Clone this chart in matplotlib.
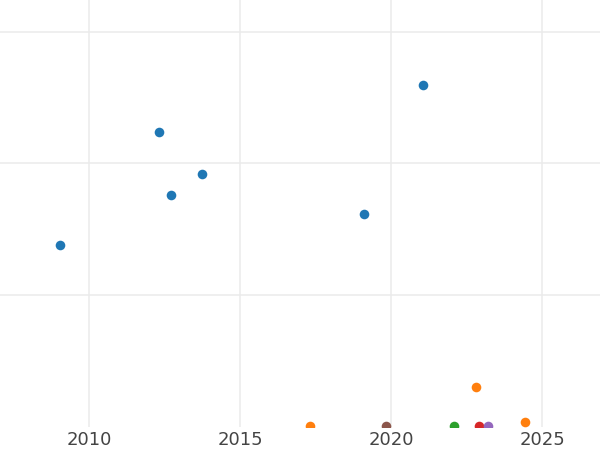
import matplotlib
matplotlib.use("Agg")
import matplotlib.pyplot as plt

# series values (y in grid units)
blue_x = [2009.04, 2012.31, 2012.71, 2013.73, 2019.11, 2021.05]
blue_y = [1.379, 2.243, 1.762, 1.922, 1.617, 2.598]
orange_x = [2017.32, 2022.80, 2024.44]
orange_y = [0.0, 0.294, 0.028]
green_x = [2022.08]
green_y = [0.0]
red_x = [2022.90]
red_y = [0.0]
purple_x = [2023.20]
purple_y = [0.0]
brown_x = [2019.83]
brown_y = [0.0]

x_ticks = [2010, 2015, 2020, 2025]
y_grid = [1, 2, 3]

fig = plt.figure(figsize=(6, 4.5), dpi=100)
ax = fig.add_axes([0, 23 / 450, 1, 427 / 450])

series = [
    (blue_x, blue_y, "#1f77b4"),
    (orange_x, orange_y, "#ff7f0e"),
    (green_x, green_y, "#2ca02c"),
    (red_x, red_y, "#d62728"),
    (purple_x, purple_y, "#9467bd"),
    (brown_x, brown_y, "#8c564b"),
]
for xs, ys, c in series:
    ax.scatter(xs, ys, s=48, color=c, linewidths=0, zorder=3)

ax.set_xlim(2007.04, 2026.91)
ax.set_ylim(-0.01, 3.247)
ax.set_xticks(x_ticks)
ax.set_xticklabels([str(t) for t in x_ticks])
ax.set_yticks(y_grid)
ax.set_yticklabels([])
ax.tick_params(axis="both", length=0, labelsize=13, labelcolor="#444444", pad=3)
ax.grid(True, color="#ebebeb", lw=1.1, zorder=0)
ax.set_axisbelow(True)
for s in ax.spines.values():
    s.set_visible(False)

fig.savefig("out.png", dpi=100)
